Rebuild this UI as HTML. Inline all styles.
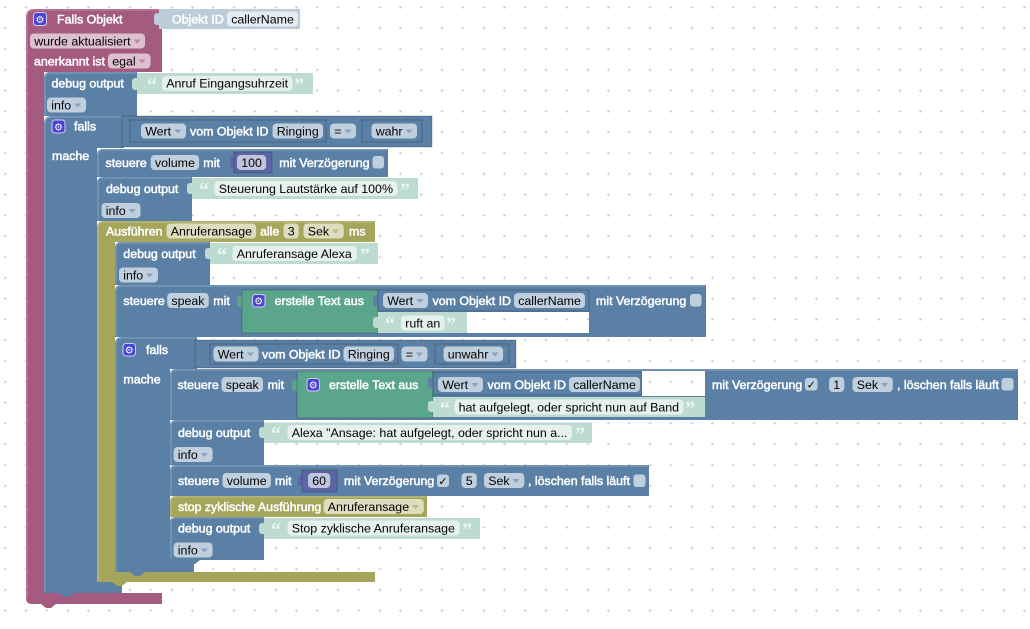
<!DOCTYPE html>
<html><head><meta charset="utf-8"><style>
html,body{margin:0;padding:0;background:#fff;}
svg{display:block;}
.w{fill:#fff;stroke:#fff;stroke-width:.5;}
.k{fill:#000;}
.f{fill:#fff;fill-opacity:.62;}
.q{fill:#fff;fill-opacity:.75;font-family:"Liberation Serif",serif;font-weight:bold;font-size:20px;}
.ab{fill:#5b80a5;fill-opacity:.55;}
.am{fill:#a55b80;fill-opacity:.55;}
.ao{fill:#a5a55b;fill-opacity:.6;}
.ic{fill:#4a45d2;stroke:#cfcaf5;stroke-width:1;}
.g{font-family:"DejaVu Sans",sans-serif;font-size:10px;fill:#fff;}
.vb{stroke:rgba(0,0,0,.22);stroke-width:1;}
.ck{font-family:"DejaVu Sans",sans-serif;font-size:11px;fill:#000;}
.hl{stroke:#fff;stroke-opacity:.28;stroke-width:1;fill:none;}
</style></head><body>
<svg width="1030" height="629" viewBox="0 0 1030 629" xmlns="http://www.w3.org/2000/svg" font-family="'Liberation Sans', Arial, sans-serif" font-size="12.4">
<defs>
<pattern id="grid" width="20.8" height="20.8" patternUnits="userSpaceOnUse"><path d="M3.8 7.3h3M5.3 5.8v3" stroke="#d0d0d0" stroke-width="1"/></pattern>
</defs>
<rect width="1030" height="629" fill="#fff"/>
<rect width="1030" height="629" fill="url(#grid)"/>

<!-- ===== MAROON Falls Objekt ===== -->
<path d="M26,17 Q26,9 34,9 H162 V72 H44 V593 H162 V604 H32 Q26,604 26,598 Z" fill="#a55b80"/>
<path d="M41,604 l5,4 h5 l5,-4 z" fill="#a55b80"/>
<path class="hl" d="M27,598 V17 Q27,10 34,10 H161"/>
<rect class="ic" x="33.5" y="12.5" width="13" height="13" rx="3"/><text class="g" x="40" y="23" text-anchor="middle">⚙</text>
<text class="w" x="57" y="23.3">Falls Objekt</text>
<rect class="f" x="30" y="33.5" width="115" height="15" rx="4"/><text class="k" x="34.2" y="45.3">wurde aktualisiert</text><path class="am" d="M133.7,39.5 h7 l-3.5,4 z"/>
<text class="w" x="34" y="65.3">anerkannt ist</text>
<rect class="f" x="108" y="53.5" width="42.5" height="15" rx="4"/><text class="k" x="112.2" y="65.3">egal</text><path class="am" d="M138.6,59.5 h7 l-3.5,4 z"/>
<!-- Objekt ID shadow -->
<rect x="154" y="13" width="8" height="12" rx="3" fill="#bdccdb"/>
<rect x="159" y="9" width="141" height="20" fill="#bdccdb"/>
<text class="w" x="172" y="23.3">Objekt ID</text>
<rect class="f" x="227" y="11.5" width="71" height="15" rx="4"/><text class="k" x="231.2" y="23.3">callerName</text>

<!-- ===== Debug #1 ===== -->
<path d="M44,78 Q44,72 50,72 H137 V116 H44 Z" fill="#5b80a5"/>
<path class="hl" d="M45,115 V78 Q45,73 50,73 H136"/>
<text class="w" x="51.5" y="87.3">debug output</text>
<rect class="f" x="47" y="97.5" width="39" height="15" rx="4"/><text class="k" x="51.2" y="109.3">info</text><path class="ab" d="M74.2,103.5 h7 l-3.5,4 z"/>
<rect x="132" y="78" width="8" height="12" rx="3" fill="#bddbd1"/>
<rect x="137" y="73" width="176" height="21" fill="#bddbd1"/>
<text class="q" x="147" y="91.5">“</text>
<rect class="f" x="162" y="76" width="130.5" height="15" rx="4"/><text class="k" x="166.2" y="87.3">Anruf Eingangsuhrzeit</text>
<text class="q" x="294" y="91.5">”</text>

<!-- ===== Falls #1 ===== -->
<path d="M44,124 Q44,116 52,116 H124 V148 H97 V582 H122 V593 H44 Z" fill="#5b80a5"/>
<path d="M59,593 l5,4 h5 l5,-4 z" fill="#5b80a5"/>
<path class="hl" d="M45,592 V124 Q45,117 52,117 H123"/>
<rect class="ic" x="52" y="120" width="13" height="13" rx="3"/><text class="g" x="58.5" y="130.5" text-anchor="middle">⚙</text>
<text class="w" x="74" y="130.5">falls</text>
<text class="w" x="52" y="160">mache</text>
<rect x="117" y="121" width="8" height="11" rx="3" fill="#5b80a5"/>
<rect class="vb" x="122" y="116" width="310" height="31" fill="#5b80a5"/>
<rect class="vb" x="130" y="120" width="196" height="22" fill="#5b80a5"/>
<rect class="f" x="141" y="123.5" width="45" height="15" rx="4"/><text class="k" x="145.2" y="135.3">Wert</text><path class="ab" d="M174.4,129.5 h7 l-3.5,4 z"/>
<text class="w" x="190" y="135.3">vom Objekt ID</text>
<rect class="f" x="272.5" y="123.5" width="50.5" height="15" rx="4"/><text class="k" x="276.7" y="135.3">Ringing</text>
<rect class="f" x="330" y="123.5" width="26" height="15" rx="4"/><text class="k" x="334.2" y="135.3">=</text><path class="ab" d="M344.4,129.5 h7 l-3.5,4 z"/>
<rect class="vb" x="362" y="120" width="60" height="22" fill="#5b80a5"/>
<rect class="f" x="371.5" y="123.5" width="45.5" height="15" rx="4"/><text class="k" x="375.7" y="135.3">wahr</text><path class="ab" d="M405.6,129.5 h7 l-3.5,4 z"/>

<!-- steuere volume 100 -->
<path d="M97,155 Q97,149 103,149 H388 V177 H97 Z" fill="#5b80a5"/>
<path class="hl" d="M98,176 V155 Q98,150 103,150 H387"/>
<text class="w" x="105.5" y="166.8">steuere</text>
<rect class="f" x="150.7" y="155" width="48.4" height="15" rx="4"/><text class="k" x="154.9" y="166.8">volume</text>
<text class="w" x="203.3" y="166.8">mit</text>
<rect x="230" y="157" width="8" height="11" rx="3" fill="#5b67a5"/>
<rect class="vb" x="234" y="152" width="38" height="21" fill="#5b67a5"/>
<rect class="f" x="237" y="155" width="29.1" height="15" rx="4"/><text class="k" x="241.2" y="166.8">100</text>
<text class="w" x="279.3" y="166.8">mit Verzögerung</text>
<rect class="f" x="372.5" y="156" width="11.5" height="12.5" rx="3"/>

<!-- debug #2 -->
<path d="M97,183 Q97,177 103,177 H192 V221 H97 Z" fill="#5b80a5"/>
<path class="hl" d="M98,220 V183 Q98,178 103,178 H191"/>
<text class="w" x="106" y="192.8">debug output</text>
<rect class="f" x="101.5" y="203" width="39" height="15" rx="4"/><text class="k" x="105.7" y="214.8">info</text><path class="ab" d="M128.7,209 h7 l-3.5,4 z"/>
<rect x="187" y="183" width="8" height="11" rx="3" fill="#bddbd1"/>
<rect x="192" y="178" width="226" height="21" fill="#bddbd1"/>
<text class="q" x="199" y="196.5">“</text>
<rect class="f" x="214.5" y="181" width="183" height="15" rx="4"/><text class="k" x="218.7" y="192.8">Steuerung Lautstärke auf 100%</text>
<text class="q" x="400" y="196.5">”</text>

<!-- ===== OLIVE Ausführen ===== -->
<path d="M97,228 Q97,221 104,221 H375 V242 H115 V572 H375 V582 H97 Z" fill="#a5a55b"/>
<path d="M112,582 l5,4 h5 l5,-4 z" fill="#a5a55b"/>
<path class="hl" d="M98,581 V228 Q98,222 104,222 H374"/>
<text class="w" x="106" y="235.3">Ausführen</text>
<rect class="f" x="166.5" y="223.5" width="89.7" height="15" rx="4"/><text class="k" x="170.7" y="235.3">Anruferansage</text>
<text class="w" x="260" y="235.3">alle</text>
<rect class="f" x="283.5" y="223.5" width="15.3" height="15" rx="4"/><text class="k" x="287.7" y="235.3">3</text>
<rect class="f" x="303.5" y="223.5" width="40.3" height="15" rx="4"/><text class="k" x="307.7" y="235.3">Sek</text><path class="ao" d="M332.1,229.5 h7 l-3.5,4 z"/>
<text class="w" x="349" y="235.3">ms</text>

<!-- debug #3 -->
<path d="M115,248 Q115,242 121,242 H210 V285 H115 Z" fill="#5b80a5"/>
<path class="hl" d="M116,284 V248 Q116,243 121,243 H209"/>
<text class="w" x="123.3" y="257.8">debug output</text>
<rect class="f" x="119" y="267.5" width="39" height="15" rx="4"/><text class="k" x="123.2" y="279.3">info</text><path class="ab" d="M146.2,273.5 h7 l-3.5,4 z"/>
<rect x="205" y="248" width="8" height="11" rx="3" fill="#bddbd1"/>
<rect x="210" y="243" width="168" height="21" fill="#bddbd1"/>
<text class="q" x="217" y="261.5">“</text>
<rect class="f" x="232.5" y="246" width="124.2" height="15" rx="4"/><text class="k" x="236.7" y="257.8">Anruferansage Alexa</text>
<text class="q" x="360" y="261.5">”</text>

<!-- steuere speak #1 -->
<path d="M115,291 Q115,285 121,285 H706 V337 H115 Z" fill="#5b80a5"/>
<path class="hl" d="M116,336 V291 Q116,286 121,286 H705"/>
<text class="w" x="123.4" y="304.8">steuere</text>
<rect class="f" x="167.2" y="293" width="41.5" height="15" rx="4"/><text class="k" x="171.4" y="304.8">speak</text>
<text class="w" x="213.3" y="304.8">mit</text>
<rect x="237" y="296" width="8" height="11" rx="3" fill="#5ba58c"/>
<rect class="vb" x="242" y="290" width="136" height="43" fill="#5ba58c"/>
<rect class="ic" x="252.5" y="294.5" width="12.5" height="12.5" rx="3"/><text class="g" x="258.7" y="304.5" text-anchor="middle">⚙</text>
<text class="w" x="274.6" y="304.8">erstelle Text aus</text>
<rect x="373" y="295" width="8" height="11" rx="3" fill="#5b80a5"/>
<rect class="vb" x="378" y="290" width="211" height="21" fill="#5b80a5"/>
<rect class="f" x="383" y="293" width="45" height="15" rx="4"/><text class="k" x="387.2" y="304.8">Wert</text><path class="ab" d="M416.4,299 h7 l-3.5,4 z"/>
<text class="w" x="432.5" y="304.8">vom Objekt ID</text>
<rect class="f" x="514" y="293" width="71" height="15" rx="4"/><text class="k" x="518.2" y="304.8">callerName</text>
<rect x="373" y="317" width="8" height="11" rx="3" fill="#bddbd1"/>
<rect x="378" y="312" width="89" height="21" fill="#bddbd1"/>
<text class="q" x="385" y="330.5">“</text>
<rect class="f" x="401" y="315.5" width="43.6" height="15" rx="4"/><text class="k" x="405.2" y="327.3">ruft an</text>
<text class="q" x="446" y="330.5">”</text>
<rect x="467" y="312" width="122" height="21" fill="#fff"/>
<rect x="467" y="312" width="122" height="21" fill="url(#grid)"/>
<text class="w" x="596" y="304.8">mit Verzögerung</text>
<rect class="f" x="690" y="294" width="11.5" height="12.5" rx="3"/>

<!-- ===== Falls #2 ===== -->
<path d="M115,344 Q115,337 122,337 H197 V369 H170 V560 H194 V572 H115 Z" fill="#5b80a5"/>
<path d="M130,572 l5,4 h5 l5,-4 z" fill="#5b80a5"/>
<path class="hl" d="M116,571 V344 Q116,338 122,338 H196"/>
<rect class="ic" x="123" y="343.5" width="12.5" height="12.5" rx="3"/><text class="g" x="129.2" y="353.5" text-anchor="middle">⚙</text>
<text class="w" x="146" y="353.8">falls</text>
<text class="w" x="123.4" y="383.3">mache</text>
<rect x="190" y="345" width="8" height="11" rx="3" fill="#5b80a5"/>
<rect class="vb" x="195" y="340" width="321" height="28" fill="#5b80a5"/>
<rect class="vb" x="210" y="344" width="188" height="20" fill="#5b80a5"/>
<rect class="f" x="213.5" y="346.5" width="45" height="15" rx="4"/><text class="k" x="217.7" y="358.3">Wert</text><path class="ab" d="M246.9,352.5 h7 l-3.5,4 z"/>
<text class="w" x="262" y="358.3">vom Objekt ID</text>
<rect class="f" x="343.5" y="346.5" width="50.5" height="15" rx="4"/><text class="k" x="347.7" y="358.3">Ringing</text>
<rect class="f" x="401.5" y="346.5" width="26" height="15" rx="4"/><text class="k" x="405.7" y="358.3">=</text><path class="ab" d="M415.9,352.5 h7 l-3.5,4 z"/>
<rect class="vb" x="435" y="344" width="74" height="20" fill="#5b80a5"/>
<rect class="f" x="443.5" y="346.5" width="59.6" height="15" rx="4"/><text class="k" x="447.7" y="358.3">unwahr</text><path class="ab" d="M491.4,352.5 h7 l-3.5,4 z"/>

<!-- steuere speak #2 -->
<path d="M170,375 Q170,369 176,369 H1018 V420 H170 Z" fill="#5b80a5"/>
<path class="hl" d="M171,419 V375 Q171,370 176,370 H1017"/>
<text class="w" x="177.5" y="388.8">steuere</text>
<rect class="f" x="221.5" y="377" width="41.5" height="15" rx="4"/><text class="k" x="225.7" y="388.8">speak</text>
<text class="w" x="267.6" y="388.8">mit</text>
<rect x="292" y="380" width="8" height="11" rx="3" fill="#5ba58c"/>
<rect class="vb" x="297" y="371" width="136" height="47" fill="#5ba58c"/>
<rect class="ic" x="307" y="378.5" width="12.5" height="12.5" rx="3"/><text class="g" x="313.2" y="388.5" text-anchor="middle">⚙</text>
<text class="w" x="329" y="388.8">erstelle Text aus</text>
<rect x="428" y="377" width="8" height="11" rx="3" fill="#5b80a5"/>
<rect class="vb" x="433" y="372" width="209" height="23" fill="#5b80a5"/>
<rect class="f" x="438" y="377" width="45" height="15" rx="4"/><text class="k" x="442.2" y="388.8">Wert</text><path class="ab" d="M471.4,383 h7 l-3.5,4 z"/>
<text class="w" x="487.5" y="388.8">vom Objekt ID</text>
<rect class="f" x="569" y="377" width="71" height="15" rx="4"/><text class="k" x="573.2" y="388.8">callerName</text>
<rect x="642" y="371" width="63" height="25" fill="#fff"/>
<rect x="642" y="371" width="63" height="25" fill="url(#grid)"/>
<rect x="428" y="401" width="8" height="11" rx="3" fill="#bddbd1"/>
<rect x="433" y="397" width="272" height="20" fill="#bddbd1"/>
<text class="q" x="440" y="415">“</text>
<rect class="f" x="454.4" y="399.5" width="229" height="15" rx="4"/><text class="k" x="458.6" y="411.3">hat aufgelegt, oder spricht nun auf Band</text>
<text class="q" x="685" y="415">”</text>
<text class="w" x="712" y="388.8">mit Verzögerung</text>
<rect class="f" x="805" y="378" width="12.5" height="12.5" rx="3"/><text class="ck" x="811.2" y="388.5" text-anchor="middle">✓</text>
<rect class="f" x="829" y="377" width="15.3" height="15" rx="4"/><text class="k" x="833.2" y="388.8">1</text>
<rect class="f" x="852.5" y="377" width="40.3" height="15" rx="4"/><text class="k" x="856.7" y="388.8">Sek</text><path class="ab" d="M881.1,383 h7 l-3.5,4 z"/>
<text class="w" x="897" y="388.8">, löschen falls läuft</text>
<rect class="f" x="1001.5" y="378" width="12" height="12.5" rx="3"/>

<!-- debug #4 -->
<path d="M170,426 Q170,420 176,420 H264 V465 H170 Z" fill="#5b80a5"/>
<path class="hl" d="M171,464 V426 Q171,421 176,421 H263"/>
<text class="w" x="178" y="436.8">debug output</text>
<rect class="f" x="173.6" y="447" width="39" height="15" rx="4"/><text class="k" x="177.8" y="458.8">info</text><path class="ab" d="M200.8,453 h7 l-3.5,4 z"/>
<rect x="259" y="427" width="8" height="11" rx="3" fill="#bddbd1"/>
<rect x="264" y="422.5" width="328" height="20.5" fill="#bddbd1"/>
<text class="q" x="271" y="440.5">“</text>
<rect class="f" x="287.5" y="425" width="284.4" height="15" rx="4"/><text class="k" x="291.7" y="436.8">Alexa "Ansage: hat aufgelegt, oder spricht nun a...</text>
<text class="q" x="575" y="440.5">”</text>

<!-- steuere volume 60 -->
<path d="M170,471 Q170,465 176,465 H649 V496 H170 Z" fill="#5b80a5"/>
<path class="hl" d="M171,495 V471 Q171,466 176,466 H648"/>
<text class="w" x="178" y="484.8">steuere</text>
<rect class="f" x="222.5" y="473" width="48.4" height="15" rx="4"/><text class="k" x="226.7" y="484.8">volume</text>
<text class="w" x="275" y="484.8">mit</text>
<rect x="298" y="475" width="8" height="11" rx="3" fill="#5b67a5"/>
<rect class="vb" x="302" y="470" width="35" height="22" fill="#5b67a5"/>
<rect class="f" x="308" y="473" width="22.2" height="15" rx="4"/><text class="k" x="312.2" y="484.8">60</text>
<text class="w" x="344" y="484.8">mit Verzögerung</text>
<rect class="f" x="437" y="474.5" width="12" height="12.5" rx="3"/><text class="ck" x="443" y="485" text-anchor="middle">✓</text>
<rect class="f" x="461.5" y="473" width="15.3" height="15" rx="4"/><text class="k" x="465.7" y="484.8">5</text>
<rect class="f" x="484" y="473" width="40.3" height="15" rx="4"/><text class="k" x="488.2" y="484.8">Sek</text><path class="ab" d="M512.6,479 h7 l-3.5,4 z"/>
<text class="w" x="528" y="484.8">, löschen falls läuft</text>
<rect class="f" x="633.5" y="474.5" width="12" height="12.5" rx="3"/>

<!-- stop zyklische -->
<path d="M170,502 Q170,496 176,496 H427 V517 H170 Z" fill="#a5a55b"/>
<path class="hl" d="M171,516 V502 Q171,497 176,497 H426"/>
<text class="w" x="178" y="510.8">stop zyklische Ausführung</text>
<rect class="f" x="323.6" y="499" width="100.2" height="15" rx="4"/><text class="k" x="327.8" y="510.8">Anruferansage</text><path class="ao" d="M412.1,505 h7 l-3.5,4 z"/>

<!-- debug #5 -->
<path d="M170,522 Q170,517 176,517 H264 V560 H170 Z" fill="#5b80a5"/>
<path d="M185,560 l5,4 h5 l5,-4 z" fill="#5b80a5"/>
<path class="hl" d="M171,559 V522 Q171,518 176,518 H263"/>
<text class="w" x="178" y="532.3">debug output</text>
<rect class="f" x="173.6" y="542.5" width="39" height="15" rx="4"/><text class="k" x="177.8" y="554.3">info</text><path class="ab" d="M200.8,548.5 h7 l-3.5,4 z"/>
<rect x="259" y="523" width="8" height="11" rx="3" fill="#bddbd1"/>
<rect x="264" y="518" width="216" height="21" fill="#bddbd1"/>
<text class="q" x="271" y="536.5">“</text>
<rect class="f" x="287.5" y="520.5" width="172.4" height="15" rx="4"/><text class="k" x="291.7" y="532.3">Stop zyklische Anruferansage</text>
<text class="q" x="462" y="536.5">”</text>
</svg>
</body></html>
